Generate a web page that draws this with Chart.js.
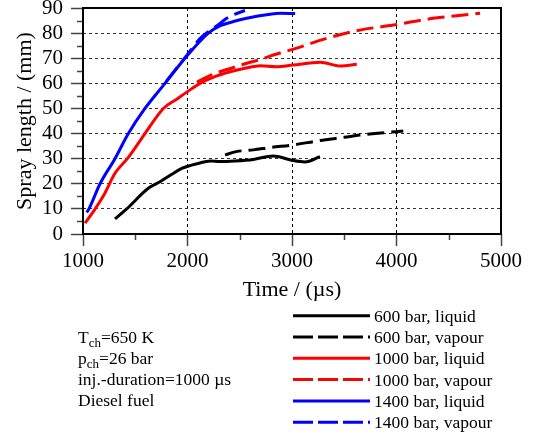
<!DOCTYPE html>
<html>
<head>
<meta charset="utf-8">
<script src="https://cdn.jsdelivr.net/npm/chart.js@4"></script>
<style>
  html, body { margin: 0; padding: 0; background: #fff; }
  #wrap { width: 533px; height: 437px; }
</style>
</head>
<body>
<div id="wrap"><canvas id="sprayChart" width="533" height="437"></canvas></div>
<script>
// spray length over time, liquid and vapour phase, three rail pressures
const liq600Time = [1306, 1418, 1625, 1737, 1850, 1950, 2100, 2220, 2311, 2450, 2630, 2821, 2997, 3124, 3268];
const liq600Len  = [6, 10, 18.2, 20.8, 23.8, 26.2, 28.1, 29.1, 28.9, 29.1, 29.7, 31.1, 29.4, 28.7, 30.8];
const vap600Time = [2359, 2466, 2630, 2800, 2997, 3268, 3500, 3650, 3850, 4065];
const vap600Len  = [31.5, 32.8, 33.5, 34.5, 35.4, 37.2, 38.5, 39.4, 40.2, 41];

const liq1000Time = [1019, 1100, 1200, 1306, 1434, 1593, 1769, 1900, 2000, 2120, 2250, 2400, 2550, 2700, 2850, 3010, 3270, 3460, 3620];
const liq1000Len  = [4.3, 9, 15.5, 24.2, 30.5, 40, 50, 53.8, 56.7, 60, 62.5, 64.5, 66, 67, 66.6, 67.3, 68.4, 66.9, 67.6];
const vap1000Time = [2090, 2200, 2311, 2440, 2566, 2700, 2821, 3045, 3330, 3650, 3970, 4290, 4550, 4800];
const vap1000Len  = [60.5, 62.8, 64.6, 66.3, 68, 69.5, 71.3, 74, 77.9, 81.2, 83.2, 85.5, 86.8, 87.9];

const liq1400Time = [1035, 1057, 1163, 1306, 1434, 1593, 1785, 1976, 2199, 2300, 2440, 2566, 2790, 2885, 3030];
const liq1400Len  = [8.6, 10, 20, 30, 40, 50, 60, 70, 80, 82.7, 84.6, 85.9, 87.5, 87.9, 87.8];
const vap1400Time = [1800, 1976, 2120, 2200, 2295, 2375, 2450, 2550];
const vap1400Len  = [61, 70.2, 77.8, 80.6, 83.3, 85.9, 87.5, 89];

const seriesNames = ['600 bar, liquid', '600 bar, vapour', '1000 bar, liquid', '1000 bar, vapour', '1400 bar, liquid', '1400 bar, vapour'];

const xTicks = [1000, 2000, 3000, 4000, 5000];
const xMinor = [1500, 2500, 3500, 4500];
const yTicks = [0, 10, 20, 30, 40, 50, 60, 70, 80, 90];
const yMinor = [5, 15, 25, 35, 45, 55, 65, 75, 85];

const notes = [
    ['T', 'ch', '=650 K'],
    ['p', 'ch', '=26 bar'],
    ['inj.-duration=1000 \u00b5s', '', ''],
    ['Diesel fuel', '', '']
];

const serif = "'Liberation Serif', 'Times New Roman', serif";
Chart.defaults.font.family = serif;
Chart.defaults.color = '#000';

function pairs(xs, ys) {
    return xs.map((x, i) => ({ x: x, y: ys[i] }));
}

function makeSet(label, xs, ys, color, dashed) {
    return {
        label: label,
        data: pairs(xs, ys),
        borderColor: color,
        backgroundColor: color,
        borderWidth: 3,
        borderDash: dashed ? [17, 7] : [],
        showLine: true,
        pointRadius: 0,
        cubicInterpolationMode: 'monotone',
        fill: false
    };
}

// frame, minor ticks, legend and the notes on the left
const extras = {
    id: 'extras',
    afterDatasetsDraw(chart) {
        const { ctx, chartArea: a } = chart;
        ctx.save();
        ctx.strokeStyle = '#000';
        ctx.lineWidth = 2;
        ctx.strokeRect(a.left, a.top, a.right - a.left, a.bottom - a.top);
        ctx.restore();
    },
    afterDraw(chart) {
        const { ctx, chartArea: a } = chart;
        const xs = chart.scales.x, ys = chart.scales.y;
        ctx.save();
        ctx.strokeStyle = '#444';
        ctx.lineWidth = 1.5;
        ctx.beginPath();
        xMinor.forEach(v => {
            const px = Math.round(xs.getPixelForValue(v)) + 0.5;
            ctx.moveTo(px, a.bottom + 1);
            ctx.lineTo(px, a.bottom + 6);
        });
        yMinor.forEach(v => {
            const py = Math.round(ys.getPixelForValue(v)) + 0.5;
            ctx.moveTo(a.left - 6, py);
            ctx.lineTo(a.left - 1, py);
        });
        ctx.stroke();

        // legend
        ctx.font = '17.5px ' + serif;
        ctx.fillStyle = '#000';
        ctx.textBaseline = 'alphabetic';
        chart.data.datasets.forEach((ds, i) => {
            const y = 315.7 + i * 21.3;
            ctx.strokeStyle = ds.borderColor;
            ctx.lineWidth = 3;
            ctx.setLineDash(ds.borderDash.length ? [20, 5] : []);
            ctx.beginPath();
            ctx.moveTo(293, y);
            ctx.lineTo(370, y);
            ctx.stroke();
            ctx.setLineDash([]);
            ctx.fillText(ds.label, 374, y + 6);
        });

        // notes
        notes.forEach((n, i) => {
            const base = 342.5 + i * 21.2;
            let x = 78;
            ctx.font = '17.5px ' + serif;
            ctx.fillText(n[0], x, base);
            x += ctx.measureText(n[0]).width;
            if (n[1]) {
                ctx.font = '13px ' + serif;
                ctx.fillText(n[1], x, base + 4);
                x += ctx.measureText(n[1]).width;
                ctx.font = '17.5px ' + serif;
                ctx.fillText(n[2], x, base);
            }
        });
        ctx.restore();
    }
};

const ctx = document.getElementById('sprayChart').getContext('2d');
const sprayChart = new Chart(ctx, {
    type: 'scatter',
    data: {
        datasets: [
            makeSet(seriesNames[0], liq600Time, liq600Len, '#000000', false),
            makeSet(seriesNames[1], vap600Time, vap600Len, '#000000', true),
            makeSet(seriesNames[2], liq1000Time, liq1000Len, '#ff0000', false),
            makeSet(seriesNames[3], vap1000Time, vap1000Len, '#ff0000', true),
            makeSet(seriesNames[4], liq1400Time, liq1400Len, '#0000ff', false),
            makeSet(seriesNames[5], vap1400Time, vap1400Len, '#0000ff', true)
        ]
    },
    options: {
        responsive: false,
        animation: false,
        layout: { padding: { left: 8, top: 8, right: 32, bottom: 130 } },
        scales: {
            x: {
                type: 'linear',
                min: 1000,
                max: 5000,
                afterBuildTicks: s => { s.ticks = xTicks.map(v => ({ value: v })); },
                afterFit: s => { s.height = 73; },
                ticks: {
                    font: { size: 21 }, color: '#000', padding: 3, maxRotation: 0, autoSkip: false,
                    callback: v => String(v)
                },
                grid: {
                    color: c => (c.tick && (c.tick.value === 1000 || c.tick.value === 5000)) ? 'rgba(0,0,0,0)' : '#000',
                    lineWidth: 1,
                    tickLength: 12,
                    tickColor: '#444',
                    tickWidth: 1.5
                },
                border: { display: false, dash: [3, 3] },
                title: { display: true, text: 'Time / (\u00b5s)', font: { size: 22 }, color: '#000' }
            },
            y: {
                min: 0,
                max: 90,
                afterBuildTicks: s => { s.ticks = yTicks.map(v => ({ value: v })); },
                afterFit: s => { s.width = 75; s.paddingTop = 0; s.paddingBottom = 0; },
                ticks: {
                    font: { size: 21 }, color: '#000', padding: 8, autoSkip: false,
                    callback: v => String(v)
                },
                grid: {
                    color: c => (c.tick && (c.tick.value === 0 || c.tick.value === 90)) ? 'rgba(0,0,0,0)' : '#333',
                    lineWidth: 1,
                    tickLength: 12,
                    tickColor: '#444',
                    tickWidth: 1.5
                },
                border: { display: false, dash: [3, 3] },
                title: { display: true, text: 'Spray length / (mm)', font: { size: 22 }, color: '#000' }
            }
        },
        plugins: {
            legend: { display: false },
            tooltip: { enabled: false }
        }
    },
    plugins: [extras]
});
</script>
</body>
</html>
